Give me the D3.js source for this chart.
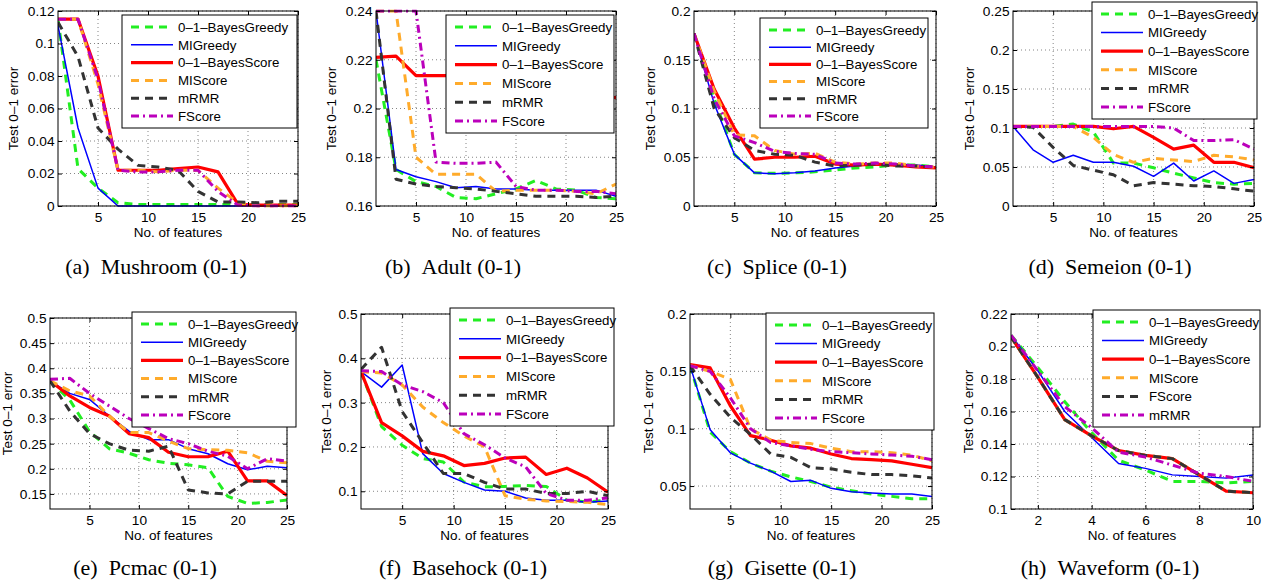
<!DOCTYPE html>
<html><head><meta charset="utf-8">
<script src="https://cdn.jsdelivr.net/npm/d3@7"></script>
<style>body{margin:0;background:#fff}svg{display:block}</style>
</head><body><svg id="c" width="1274" height="586"></svg>
<script>
// ---------- DATA ----------
const features25 = [1,3,5,7,9,11,13,15,17,19,21,23,25];
const features10 = [1,2,3,4,5,6,7,8,9,10];
const namesMain = ["0\u20131\u2013BayesGreedy","MIGreedy","0\u20131\u2013BayesScore","MIScore","mRMR","FScore"];
const namesWave = ["0\u20131\u2013BayesGreedy","MIGreedy","0\u20131\u2013BayesScore","MIScore","FScore","mRMR"];

// (a) Mushroom
const mushroomBayesGreedy = [0.115,0.023,0.011,0.002,0.001,0.001,0.001,0.001,0.001,0.001,0.001,0.001,0.001];
const mushroomMIGreedy    = [0.111,0.048,0.011,0,0,0,0,0,0,0,0,0,0];
const mushroomBayesScore  = [0.115,0.115,0.080,0.022,0.022,0.022,0.023,0.024,0.021,0.001,0.0005,0.0005,0.0005];
const mushroomMIScore     = [0.115,0.115,0.075,0.022,0.022,0.021,0.022,0.022,0.011,0.002,0,0,0];
const mushroomMRMR        = [0.113,0.092,0.048,0.035,0.025,0.024,0.022,0.009,0.0025,0.0025,0.002,0.003,0.003];
const mushroomFScore      = [0.115,0.115,0.078,0.022,0.021,0.021,0.022,0.022,0.009,0.0005,0,0,0];
// (b) Adult
const adultBayesGreedy = [0.220,0.175,0.170,0.168,0.1635,0.163,0.165,0.167,0.1705,0.167,0.1665,0.1635,0.163];
const adultMIGreedy    = [0.240,0.175,0.172,0.170,0.1675,0.168,0.167,0.167,0.1665,0.1665,0.1665,0.1665,0.164];
const adultBayesScore  = [0.221,0.2215,0.2135,0.2135,0.2135,0.2135,0.2135,0.212,0.210,0.208,0.2065,0.205,0.2045];
const adultMIScore     = [0.240,0.240,0.180,0.173,0.173,0.173,0.166,0.1665,0.1665,0.1665,0.166,0.165,0.169];
const adultMRMR        = [0.240,0.171,0.169,0.168,0.1675,0.167,0.166,0.165,0.164,0.164,0.164,0.1635,0.164];
const adultFScore      = [0.240,0.240,0.240,0.178,0.1775,0.1775,0.178,0.168,0.1665,0.1665,0.166,0.166,0.165];
// (c) Splice
const spliceBayesGreedy = [0.177,0.110,0.053,0.034,0.0335,0.034,0.035,0.037,0.039,0.040,0.042,0.042,0.040];
const spliceMIGreedy    = [0.177,0.105,0.053,0.034,0.033,0.034,0.036,0.039,0.041,0.043,0.043,0.042,0.040];
const spliceBayesScore  = [0.177,0.120,0.080,0.048,0.050,0.050,0.051,0.043,0.042,0.043,0.042,0.040,0.039];
const spliceMIScore     = [0.177,0.118,0.073,0.072,0.057,0.053,0.054,0.045,0.043,0.044,0.044,0.041,0.040];
const spliceMRMR        = [0.177,0.100,0.070,0.057,0.053,0.052,0.045,0.041,0.042,0.043,0.041,0.041,0.040];
const spliceFScore      = [0.177,0.110,0.072,0.065,0.056,0.054,0.053,0.044,0.043,0.044,0.043,0.041,0.040];
// (d) Semeion
const semeionBayesGreedy = [0.102,0.102,0.102,0.105,0.095,0.055,0.055,0.049,0.042,0.036,0.030,0.028,0.029];
const semeionMIGreedy    = [0.102,0.072,0.056,0.065,0.056,0.056,0.051,0.038,0.055,0.032,0.045,0.029,0.034];
const semeionBayesScore  = [0.102,0.102,0.102,0.102,0.102,0.099,0.102,0.088,0.073,0.078,0.056,0.056,0.049];
const semeionMIScore     = [0.102,0.102,0.102,0.102,0.088,0.066,0.056,0.061,0.059,0.057,0.065,0.063,0.059];
const semeionMRMR        = [0.102,0.101,0.075,0.052,0.046,0.040,0.026,0.030,0.028,0.026,0.025,0.022,0.019];
const semeionFScore      = [0.102,0.102,0.102,0.102,0.102,0.102,0.102,0.102,0.100,0.084,0.084,0.085,0.073];
// (e) Pcmac
const pcmacBayesGreedy = [0.375,0.337,0.274,0.240,0.231,0.218,0.211,0.208,0.202,0.145,0.131,0.133,0.138];
const pcmacMIGreedy    = [0.375,0.350,0.338,0.305,0.275,0.258,0.258,0.240,0.230,0.210,0.198,0.205,0.202];
const pcmacBayesScore  = [0.375,0.345,0.322,0.305,0.270,0.262,0.233,0.224,0.224,0.235,0.176,0.176,0.147];
const pcmacMIScore     = [0.375,0.355,0.345,0.305,0.272,0.272,0.255,0.240,0.238,0.237,0.232,0.215,0.212];
const pcmacMRMR        = [0.375,0.315,0.270,0.250,0.237,0.235,0.245,0.158,0.152,0.150,0.175,0.175,0.175];
const pcmacFScore      = [0.378,0.380,0.350,0.325,0.300,0.280,0.260,0.250,0.235,0.225,0.200,0.220,0.215];
// (f) Basehock
const basehockBayesGreedy = [0.370,0.246,0.204,0.174,0.166,0.121,0.110,0.111,0.113,0.111,0.080,0.076,0.080];
const basehockMIGreedy    = [0.370,0.335,0.385,0.185,0.140,0.120,0.103,0.100,0.085,0.080,0.080,0.075,0.078];
const basehockBayesScore  = [0.370,0.255,0.225,0.190,0.180,0.158,0.163,0.175,0.177,0.138,0.152,0.130,0.098];
const basehockMIScore     = [0.370,0.367,0.340,0.290,0.255,0.225,0.200,0.090,0.082,0.078,0.077,0.075,0.070];
const basehockMRMR        = [0.375,0.425,0.280,0.210,0.140,0.140,0.120,0.105,0.105,0.095,0.095,0.100,0.090];
const basehockFScore      = [0.372,0.370,0.340,0.325,0.300,0.230,0.205,0.175,0.155,0.095,0.080,0.080,0.085];
// (g) Gisette
const gisetteBayesGreedy = [0.155,0.097,0.080,0.070,0.063,0.058,0.054,0.049,0.046,0.043,0.041,0.039,0.039];
const gisetteMIGreedy    = [0.155,0.099,0.079,0.070,0.063,0.054,0.055,0.048,0.045,0.044,0.043,0.043,0.041];
const gisetteBayesScore  = [0.156,0.153,0.120,0.094,0.090,0.085,0.083,0.078,0.074,0.073,0.072,0.069,0.066];
const gisetteMIScore     = [0.155,0.150,0.143,0.100,0.090,0.088,0.087,0.083,0.080,0.080,0.079,0.077,0.072];
const gisetteMRMR        = [0.155,0.130,0.110,0.095,0.078,0.075,0.066,0.065,0.062,0.060,0.060,0.059,0.057];
const gisetteFScore      = [0.155,0.150,0.127,0.100,0.088,0.085,0.082,0.080,0.079,0.078,0.077,0.076,0.073];
// (h) Waveform
const waveBayesGreedy = [0.207,0.187,0.166,0.147,0.130,0.124,0.117,0.117,0.116,0.117];
const waveMIGreedy    = [0.207,0.185,0.160,0.144,0.128,0.125,0.121,0.120,0.119,0.121];
const waveBayesScore  = [0.206,0.181,0.155,0.145,0.136,0.133,0.131,0.121,0.111,0.110];
const waveMIScore     = [0.206,0.181,0.155,0.145,0.136,0.133,0.131,0.121,0.111,0.110];
const waveFScore      = [0.206,0.181,0.155,0.145,0.136,0.133,0.131,0.121,0.111,0.110];
const waveMRMR        = [0.207,0.185,0.163,0.150,0.135,0.132,0.127,0.122,0.120,0.117];

// tick labels
const xTicks25 = [5,10,15,20,25];
const xTicks10 = [2,4,6,8,10];
const yTicksA = [0,0.02,0.04,0.06,0.08,0.1,0.12];
const yTicksB = [0.16,0.18,0.2,0.22,0.24];
const yTicksC = [0,0.05,0.1,0.15,0.2];
const yTicksD = [0,0.05,0.1,0.15,0.2,0.25];
const yTicksE = [0.15,0.2,0.25,0.3,0.35,0.4,0.45,0.5];
const yTicksF = [0.1,0.2,0.3,0.4,0.5];
const yTicksG = [0.05,0.1,0.15,0.2];
const yTicksH = [0.1,0.12,0.14,0.16,0.18,0.2,0.22];

const captions = ["(a)\u2002Mushroom (0-1)","(b)\u2002Adult (0-1)","(c)\u2002Splice (0-1)","(d)\u2002Semeion (0-1)",
                  "(e)\u2002Pcmac (0-1)","(f)\u2002Basehock (0-1)","(g)\u2002Gisette (0-1)","(h)\u2002Waveform (0-1)"];

// ---------- STYLES ----------
const styles = [
  {color:"#22ee22", w:3,   dash:"8,6"},
  {color:"#0000ff", w:1.5, dash:null},
  {color:"#ff0000", w:3.2, dash:null},
  {color:"#ffab2b", w:3,   dash:"8,6"},
  {color:"#333333", w:3,   dash:"8,6"},
  {color:"#bb00bb", w:3,   dash:"8,4,2,4"}
];
const FONT = '"Liberation Sans", Arial, Helvetica, sans-serif';

const panels = [
  {box:[58,11,298,206], x:features25, xDomain:[1,25], xTicks:xTicks25, yDomain:[0,0.12], yTicks:yTicksA,
   series:[mushroomBayesGreedy,mushroomMIGreedy,mushroomBayesScore,mushroomMIScore,mushroomMRMR,mushroomFScore], names:namesMain,
   legend:[122,15,175,113], ylabX:13, capX:156, capY:274},
  {box:[376,11,616,206], x:features25, xDomain:[1,25], xTicks:xTicks25, yDomain:[0.16,0.24], yTicks:yTicksB,
   series:[adultBayesGreedy,adultMIGreedy,adultBayesScore,adultMIScore,adultMRMR,adultFScore], names:namesMain,
   legend:[446,15,168,118], ylabX:331, capX:453, capY:274},
  {box:[694,11,936,206], x:features25, xDomain:[1,25], xTicks:xTicks25, yDomain:[0,0.2], yTicks:yTicksC,
   series:[spliceBayesGreedy,spliceMIGreedy,spliceBayesScore,spliceMIScore,spliceMRMR,spliceFScore], names:namesMain,
   legend:[760,18,168,110], ylabX:650, capX:777, capY:274},
  {box:[1013,11,1254,206], x:features25, xDomain:[1,25], xTicks:xTicks25, yDomain:[0,0.25], yTicks:yTicksD,
   series:[semeionBayesGreedy,semeionMIGreedy,semeionBayesScore,semeionMIScore,semeionMRMR,semeionFScore], names:namesMain,
   legend:[1092,2,165,117], ylabX:969, capX:1110, capY:274},
  {box:[50,318,287,509], x:features25, xDomain:[1,25], xTicks:xTicks25, yDomain:[0.12,0.5], yTicks:yTicksE,
   series:[pcmacBayesGreedy,pcmacMIGreedy,pcmacBayesScore,pcmacMIScore,pcmacMRMR,pcmacFScore], names:namesMain,
   legend:[132,312,164,115], ylabX:7, capX:145, capY:575},
  {box:[361,314,608,509], x:features25, xDomain:[1,25], xTicks:xTicks25, yDomain:[0.06,0.5], yTicks:yTicksF,
   series:[basehockBayesGreedy,basehockMIGreedy,basehockBayesScore,basehockMIScore,basehockMRMR,basehockFScore], names:namesMain,
   legend:[450,308,164,118], ylabX:326, capX:463, capY:575},
  {box:[690,314,932,509], x:features25, xDomain:[1,25], xTicks:xTicks25, yDomain:[0.03,0.2], yTicks:yTicksG,
   series:[gisetteBayesGreedy,gisetteMIGreedy,gisetteBayesScore,gisetteMIScore,gisetteMRMR,gisetteFScore], names:namesMain,
   legend:[766,313,168,117], ylabX:648, capX:782, capY:575},
  {box:[1011,314,1253,509], x:features10, xDomain:[1,10], xTicks:xTicks10, yDomain:[0.1,0.22], yTicks:yTicksH,
   series:[waveBayesGreedy,waveMIGreedy,waveBayesScore,waveMIScore,waveFScore,waveMRMR], names:namesWave,
   legend:[1093,310,167,117], ylabX:968, capX:1110, capY:575}
];

const svg = d3.select("#c");
const fmt = d => String(+d.toFixed(3));

panels.forEach((p, idx) => {
  const [x0,y0,x1,y1] = p.box;
  const xs = d3.scaleLinear().domain(p.xDomain).range([x0,x1]);
  const ys = d3.scaleLinear().domain(p.yDomain).range([y1,y0]);
  const g = svg.append("g");

  // grid
  g.append("g").selectAll("line").data(p.xTicks).join("line")
    .attr("x1",d=>xs(d)).attr("x2",d=>xs(d)).attr("y1",y0).attr("y2",y1)
    .attr("stroke","#666").attr("stroke-width",0.8).attr("stroke-dasharray","1,3");
  g.append("g").selectAll("line").data(p.yTicks).join("line")
    .attr("x1",x0).attr("x2",x1).attr("y1",d=>ys(d)).attr("y2",d=>ys(d))
    .attr("stroke","#666").attr("stroke-width",0.8).attr("stroke-dasharray","1,3");

  // clip
  const cid = "clip"+idx;
  svg.append("clipPath").attr("id",cid).append("rect")
    .attr("x",x0).attr("y",y0-1.5).attr("width",x1-x0).attr("height",y1-y0+3);

  const line = d3.line().x((d,i)=>xs(p.x[i])).y(d=>ys(d));
  p.series.forEach((s,i) => {
    const st = styles[i];
    g.append("path").datum(s).attr("d",line).attr("fill","none")
      .attr("stroke",st.color).attr("stroke-width",st.w)
      .attr("stroke-dasharray",st.dash).attr("stroke-linejoin","round")
      .attr("clip-path",`url(#${cid})`);
  });

  // axes
  const ax = (sel) => sel.attr("font-family",FONT).attr("font-size",13.7)
    .call(s=>s.select(".domain").remove())
    .call(s=>s.selectAll(".tick line").attr("stroke","#000"));
  g.append("g").attr("transform",`translate(0,${y1})`)
    .call(d3.axisBottom(xs).tickValues(p.xTicks).tickSize(-4).tickPadding(6.5).tickFormat(fmt)).call(ax);
  g.append("g").attr("transform",`translate(0,${y0})`)
    .call(d3.axisTop(xs).tickValues(p.xTicks).tickSize(-4).tickFormat("")).call(ax);
  g.append("g").attr("transform",`translate(${x0},0)`)
    .call(d3.axisLeft(ys).tickValues(p.yTicks).tickSize(-4).tickPadding(3.5).tickFormat(fmt)).call(ax);
  g.append("g").attr("transform",`translate(${x1},0)`)
    .call(d3.axisRight(ys).tickValues(p.yTicks).tickSize(-4).tickFormat("")).call(ax);
  g.selectAll(".tick text").attr("fill","#000");

  g.append("rect").attr("x",x0).attr("y",y0).attr("width",x1-x0).attr("height",y1-y0)
    .attr("fill","none").attr("stroke","#000").attr("stroke-width",1);

  // axis labels
  g.append("text").attr("x",(x0+x1)/2).attr("y",y1+31).attr("text-anchor","middle")
    .attr("font-family",FONT).attr("font-size",13.5).text("No. of features");
  g.append("text").attr("transform",`translate(${p.ylabX+4.8},${(y0+y1)/2}) rotate(-90)`)
    .attr("text-anchor","middle").attr("font-family",FONT).attr("font-size",13.5).text("Test 0\u20131 error");

  // legend
  const [lx,ly,lw,lh] = p.legend;
  const lg = svg.append("g");
  lg.append("rect").attr("x",lx).attr("y",ly).attr("width",lw).attr("height",lh)
    .attr("fill","#fff").attr("stroke","#000").attr("stroke-width",1);
  p.names.forEach((n,i) => {
    const cy = ly + 12 + i*(lh-24)/5;
    const st = styles[i];
    lg.append("line").attr("x1",lx+9).attr("x2",lx+51).attr("y1",cy).attr("y2",cy)
      .attr("stroke",st.color).attr("stroke-width",st.w).attr("stroke-dasharray",st.dash);
    lg.append("text").attr("x",lx+56).attr("y",cy+4.8).attr("font-family",FONT)
      .attr("font-size",13.3).text(n);
  });

  // caption
  svg.append("text").attr("x",p.capX).attr("y",p.capY).attr("text-anchor","middle")
    .attr("font-family",'"Liberation Serif","Times New Roman",serif').attr("font-size",22)
    .text(captions[idx]);
});
</script></body></html>
